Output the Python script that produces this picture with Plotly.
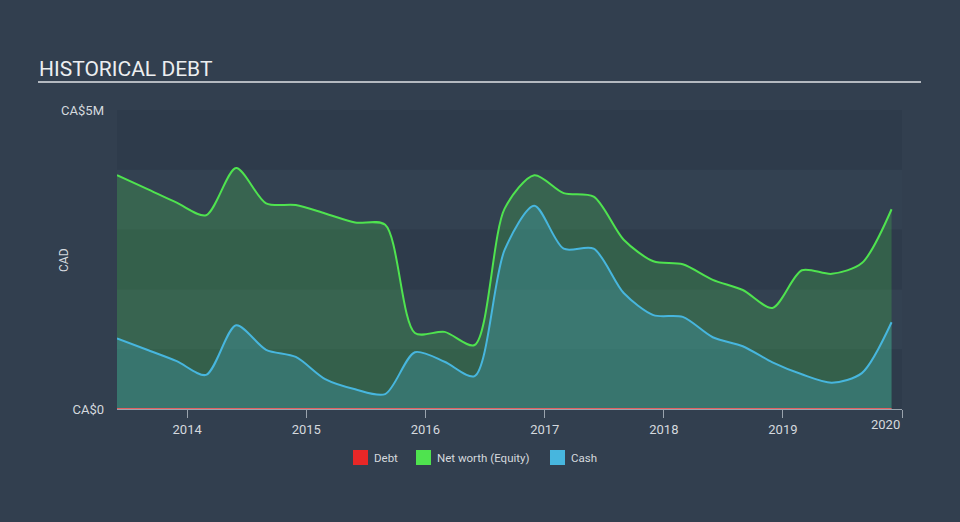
import plotly.graph_objects as go

dates = ["2013-05-31", "2013-08-31", "2013-11-30", "2014-02-28", "2014-05-31", "2014-08-31",
         "2014-11-30", "2015-02-28", "2015-05-31", "2015-08-31", "2015-11-30", "2016-02-29",
         "2016-05-31", "2016-08-31", "2016-11-30", "2017-02-28", "2017-05-31", "2017-08-31",
         "2017-11-30", "2018-02-28", "2018-05-31", "2018-08-31", "2018-11-30", "2019-02-28",
         "2019-05-31", "2019-08-31", "2019-11-30"]
equity = [3.91, 3.68, 3.45, 3.24, 4.03, 3.44, 3.41, 3.27, 3.12, 3.08, 1.27, 1.29,
          1.07, 3.35, 3.91, 3.61, 3.55, 2.83, 2.47, 2.42, 2.16, 1.99, 1.69, 2.32,
          2.26, 2.44, 3.34]
cash = [1.18, 0.99, 0.80, 0.57, 1.40, 0.99, 0.87, 0.50, 0.33, 0.25, 0.95, 0.79,
        0.55, 2.66, 3.40, 2.68, 2.68, 1.94, 1.57, 1.54, 1.20, 1.05, 0.78, 0.58,
        0.44, 0.60, 1.45]
debt = [0.0] * len(dates)

tick_vals = ["2014-01-01", "2015-01-01", "2016-01-01", "2017-01-01", "2018-01-01", "2019-01-01", "2020-01-01"]
tick_text = ["2014", "2015", "2016", "2017", "2018", "2019", "2020"]

legend_names = ["Debt", "Net worth (Equity)", "Cash"]

M = 1e6
eq_v = [v * M for v in equity]
cash_v = [v * M for v in cash]
debt_v = [v * M for v in debt]

GREEN = "#4fe34f"
BLUE = "#47b6de"
RED = "#e82727"
PAPER = "#323f4f"
TXT = "#d5d9de"
FONT = "Roboto"

# plot area in pixels (for converting layout decorations to paper coords)
L, R, T, B = 117, 902, 110, 409
def px(x):
    return (x - L) / (R - L)
def py(y):
    return (B - y) / (B - T)

fig = go.Figure()
fig.add_trace(go.Scatter(x=dates, y=eq_v, mode="lines", line=dict(color=GREEN, width=2, shape="spline", smoothing=0.8),
                         fill="tozeroy", fillcolor="rgba(79,227,79,0.22)", showlegend=False, hoverinfo="skip"))
fig.add_trace(go.Scatter(x=dates, y=cash_v, mode="lines", line=dict(color=BLUE, width=2, shape="spline", smoothing=0.8),
                         fill="tozeroy", fillcolor="rgba(71,182,222,0.24)", showlegend=False, hoverinfo="skip"))
fig.add_trace(go.Scatter(x=dates, y=debt_v, mode="lines", line=dict(color="#e06060", width=2),
                         showlegend=False, hoverinfo="skip", cliponaxis=False))

shapes = []
for i in range(5):
    if i % 2 == 0:
        shapes.append(dict(type="rect", xref="paper", yref="y", x0=0, x1=1, y0=i * M, y1=(i + 1) * M,
                           fillcolor="#2e3b4b", line=dict(width=0), layer="below"))
# title underline
shapes.append(dict(type="line", xref="paper", yref="paper", x0=px(38), x1=px(921),
                   y0=py(82), y1=py(82), line=dict(color="#b4b9c0", width=2)))

annotations = [
    dict(text="HISTORICAL DEBT", xref="paper", yref="paper", x=px(37), y=py(69),
         xanchor="left", yanchor="middle", showarrow=False, font=dict(family=FONT, size=21, color="#eceef0")),
    dict(text=tick_text[-1], xref="x", yref="paper", x=tick_vals[-1], y=py(424),
         xanchor="right", yanchor="middle", showarrow=False, font=dict(family=FONT, size=13, color=TXT)),
    dict(text="CAD", xref="paper", yref="paper", x=px(64), y=py(260),
         xanchor="center", yanchor="middle", textangle=-90, showarrow=False,
         font=dict(family=FONT, size=12, color=TXT)),
]

# custom legend
leg_sq = [353, 416, 550]
for name, col, x0 in zip(legend_names, [RED, GREEN, BLUE], leg_sq):
    shapes.append(dict(type="rect", xref="paper", yref="paper", x0=px(x0), x1=px(x0 + 15),
                       y0=py(465), y1=py(450), fillcolor=col, line=dict(width=0)))
    annotations.append(dict(text=name, xref="paper", yref="paper", x=px(x0 + 19), y=py(457.5),
                            xanchor="left", yanchor="middle", showarrow=False,
                            font=dict(family=FONT, size=11.5, color=TXT)))

fig.update_layout(
    width=960, height=522,
    paper_bgcolor=PAPER, plot_bgcolor="#334151",
    margin=dict(l=L, r=960 - R, t=T, b=522 - B, autoexpand=False),
    font=dict(family=FONT, size=12, color=TXT),
    shapes=shapes, annotations=annotations, showlegend=False,
    xaxis=dict(range=["2013-05-31", "2020-01-01"], tickvals=tick_vals,
               ticktext=tick_text[:-1] + [""], showgrid=False, zeroline=False,
               showline=True, linecolor="#9aa3ad", linewidth=1, ticks="outside", ticklen=8,
               tickcolor="#9aa3ad", tickfont=dict(size=13, color=TXT)),
    yaxis=dict(range=[0, 5 * M], tickvals=[0, 5 * M], ticktext=["CA$0", "CA$5M"], showgrid=False,
               zeroline=False, showline=False, ticks="", ticklabelstandoff=12,
               tickfont=dict(size=13, color=TXT)),
)

fig.write_html("out.html")
